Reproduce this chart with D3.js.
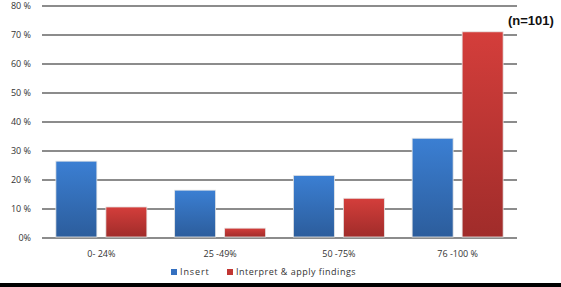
<!DOCTYPE html>
<html>
<head>
<meta charset="utf-8">
<script src="https://cdn.jsdelivr.net/npm/d3@7"></script>
<style>
  html, body { margin: 0; padding: 0; background: #fff; }
  svg { display: block; font-family: "Open Sans", "DejaVu Sans", sans-serif; }
</style>
</head>
<body>
<div id="chart"></div>
<script>
// Data
const categories = ["0- 24%", "25 -49%", "50 -75%", "76 -100 %"];
const seriesNames = ["Insert", "Interpret & apply findings"];
const insertValues = [26.5, 16.5, 21.6, 34.4];
const interpretValues = [10.7, 3.4, 13.7, 71.1];
const yTicks = [0, 10, 20, 30, 40, 50, 60, 70, 80];

const width = 561, height = 287;
const plot = { left: 42, right: 517, top: 6, bottom: 238 };

const svg = d3.select("#chart").append("svg")
    .attr("width", width)
    .attr("height", height);

const defs = svg.append("defs");
const gradients = [
    { id: "gBlue", top: "#3b7fd3", bottom: "#2c5d9c" },
    { id: "gRed", top: "#d43e3b", bottom: "#a02c2a" }
];
gradients.forEach(g => {
    const lg = defs.append("linearGradient")
        .attr("id", g.id)
        .attr("x1", 0).attr("y1", 0).attr("x2", 0).attr("y2", 1);
    lg.append("stop").attr("offset", "0%").attr("stop-color", g.top);
    lg.append("stop").attr("offset", "100%").attr("stop-color", g.bottom);
});

const x = d3.scaleBand()
    .domain(categories)
    .range([plot.left, plot.right]);

const y = d3.scaleLinear()
    .domain([0, 80])
    .range([plot.bottom, plot.top]);

// Gridlines
svg.append("g")
    .selectAll("line")
    .data(yTicks)
    .join("line")
    .attr("x1", plot.left)
    .attr("x2", plot.right)
    .attr("y1", d => y(d))
    .attr("y2", d => y(d))
    .attr("stroke", "#8c8c8c")
    .attr("stroke-width", 2);

// Y labels
svg.append("g")
    .selectAll("text")
    .data(yTicks)
    .join("text")
    .attr("x", 31)
    .attr("y", d => y(d))
    .attr("dy", "0.35em")
    .attr("text-anchor", "end")
    .attr("font-size", "9px")
    .attr("fill", "#333")
    .text(d => d === 0 ? "0%" : d + " %");

// Bars
const barW = 41, gap = 9;
const series = [
    { values: insertValues, fill: "url(#gBlue)" },
    { values: interpretValues, fill: "url(#gRed)" }
];
series.forEach((s, si) => {
    svg.append("g")
        .selectAll("rect")
        .data(categories)
        .join("rect")
        .attr("x", d => x(d) + (x.bandwidth() - 2 * barW - gap) / 2 + si * (barW + gap))
        .attr("y", (d, i) => y(s.values[i]))
        .attr("width", barW)
        .attr("height", (d, i) => y(0) - y(s.values[i]) - 1)
        .attr("fill", s.fill)
        .attr("stroke", "#e6e6e6")
        .attr("stroke-width", 0.8);
});

// Category labels
svg.append("g")
    .selectAll("text")
    .data(categories)
    .join("text")
    .attr("x", d => x(d) + x.bandwidth() / 2)
    .attr("y", 257)
    .attr("text-anchor", "middle")
    .attr("font-size", "9px")
    .attr("fill", "#333")
    .text(d => d);

// Legend
const legend = svg.append("g");
const legendItems = [
    { label: seriesNames[0], color: "#3470c0", x: 171, spacing: 0.9 },
    { label: seriesNames[1], color: "#c13633", x: 227, spacing: 0.5 }
];
legendItems.forEach(item => {
    legend.append("rect")
        .attr("x", item.x)
        .attr("y", 269)
        .attr("width", 6)
        .attr("height", 6)
        .attr("fill", item.color);
    legend.append("text")
        .attr("x", item.x + 9)
        .attr("y", 275)
        .attr("font-size", "9px")
        .attr("letter-spacing", item.spacing)
        .attr("fill", "#333")
        .text(item.label);
});

// Sample size note
svg.append("text")
    .attr("x", 508)
    .attr("y", 25)
    .attr("font-size", "13px")
    .attr("font-weight", "bold")
    .attr("font-family", "Liberation Sans, Arial, sans-serif")
    .attr("fill", "#111")
    .text("(n=101)");

// Bottom border
svg.append("rect")
    .attr("x", 0)
    .attr("y", 283)
    .attr("width", width)
    .attr("height", 4)
    .attr("fill", "#000");
</script>
</body>
</html>
